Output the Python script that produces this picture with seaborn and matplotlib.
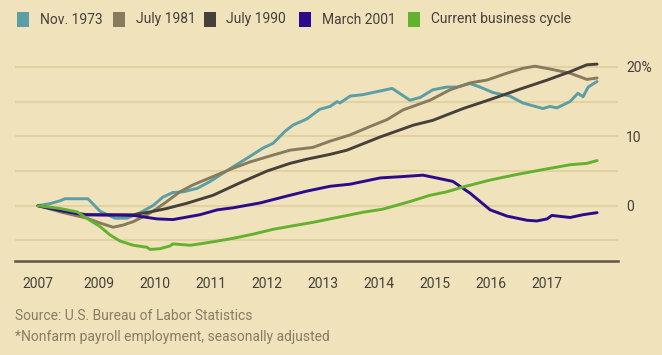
import matplotlib
matplotlib.use("Agg")
import matplotlib.pyplot as plt
import seaborn as sns
import pandas as pd
from matplotlib.patches import Rectangle

# ---------------- data (months since start of cycle, % change in payrolls) ----------------
series_names = ["Nov. 1973", "July 1981", "July 1990", "March 2001", "Current business cycle"]
series_colors = ["#5b9ea6", "#877b5e", "#46403a", "#2b0a8c", "#62b22f"]

nov1973_m = [0, 2.6, 4.7, 5.8, 10.7, 13.3, 16.5, 19.1, 21.9, 24.6, 26.8, 28.9, 31.1, 34.1, 36.9,
             41.8, 45.4, 48.2, 50.4, 52.9, 54.6, 57.6, 60.4, 62.6, 64.1, 64.7, 66.9, 69.6, 75.9,
             79.7, 81.9, 84.6, 87.6, 89.8, 92.6, 94.7, 97.5, 101.1, 103.9, 108.2, 109.7, 111.2,
             114.0, 115.7, 116.8, 117.9, 119.8]
nov1973_v = [0, 0.3, 0.7, 1.0, 1.0, -0.8, -1.8, -1.8, -1.0, 0.0, 1.25, 1.9, 2.0, 2.5, 3.5,
             5.6, 7.1, 8.3, 9.0, 10.7, 11.6, 12.5, 13.9, 14.3, 15.0, 14.8, 15.8, 16.0, 16.9,
             15.2, 15.6, 16.7, 17.1, 17.1, 17.6, 17.1, 16.3, 15.8, 14.8, 14.0, 14.3, 14.1,
             15.0, 16.2, 15.7, 17.1, 17.9]

jul1981_m = [0, 5.4, 10.5, 13.3, 16.1, 18.2, 20.4, 23.4, 25.5, 27.6, 30.4, 33.2, 37.5, 41.8,
             45.4, 50.4, 54.0, 58.9, 62.6, 66.9, 71.1, 74.8, 78.2, 84.0, 88.3, 92.6, 96.2,
             100.5, 103.9, 106.5, 109.7, 114.0, 117.6, 119.8]
jul1981_v = [0, -1.0, -1.8, -2.5, -3.1, -2.8, -2.3, -1.3, -0.4, 0.6, 2.0, 3.0, 4.2, 5.4,
             6.3, 7.3, 8.0, 8.4, 9.3, 10.2, 11.4, 12.4, 13.8, 15.2, 16.7, 17.7, 18.1,
             19.1, 19.8, 20.1, 19.7, 19.1, 18.2, 18.4]

jul1990_m = [0, 5.4, 10.5, 20.4, 24.0, 27.6, 31.9, 37.5, 43.3, 49.1, 54.0, 57.6, 62.6, 66.2,
             73.3, 80.4, 84.6, 91.1, 96.9, 103.3, 109.1, 114.0, 117.6, 119.8]
jul1990_v = [0, -0.8, -1.3, -1.3, -0.9, -0.4, 0.35, 1.5, 3.3, 5.0, 6.1, 6.7, 7.4, 8.0,
             9.9, 11.6, 12.3, 14.0, 15.3, 16.8, 18.1, 19.3, 20.3, 20.4]

mar2001_m = [0, 9.6, 20.4, 25.5, 28.9, 34.7, 38.4, 41.8, 47.6, 53.4, 57.6, 62.6, 66.9, 73.3,
             78.2, 82.5, 86.1, 88.9, 92.6, 96.9, 100.5, 104.8, 106.9, 109.1, 110.1, 114.0,
             116.8, 119.8]
mar2001_v = [0, -1.3, -1.4, -1.9, -2.0, -1.3, -0.6, -0.3, 0.4, 1.4, 2.1, 2.8, 3.1, 4.0,
             4.2, 4.4, 3.9, 3.5, 1.8, -0.6, -1.5, -2.1, -2.2, -1.9, -1.4, -1.7,
             -1.3, -1.0]

current_m = [0, 4.7, 8.4, 11.1, 13.3, 15.4, 17.6, 20.4, 23.4, 24.0, 26.1, 28.3, 28.9, 32.6,
             34.7, 38.4, 41.8, 46.1, 50.4, 54.6, 58.9, 62.6, 69.6, 73.9, 79.7, 84.0, 87.6,
             91.1, 96.9, 102.6, 108.2, 114.0, 117.6, 119.8]
current_v = [0, -0.4, -0.9, -2.1, -3.0, -4.2, -5.1, -5.7, -6.0, -6.3, -6.2, -5.8, -5.5, -5.7,
             -5.5, -5.1, -4.7, -4.1, -3.4, -2.9, -2.4, -1.9, -0.95, -0.5, 0.6, 1.5, 2.0,
             2.7, 3.7, 4.5, 5.2, 5.9, 6.1, 6.5]

xtick_months = [0, 13, 25, 37, 49, 61, 73, 85, 97, 109]
xtick_labels = ["2007", "2009", "2010", "2011", "2012", "2013", "2014", "2015", "2016", "2017"]
ytick_vals = [0, 10, 20]
ytick_labels = ["0", "10", "20%"]
grid_vals = [-5, 0, 5, 10, 15, 20]

source_text = "Source: U.S. Bureau of Labor Statistics"
note_text = "*Nonfarm payroll employment, seasonally adjusted"

# ---------------- build table ----------------
frames = []
for name, m, v in zip(series_names,
                      [nov1973_m, jul1981_m, jul1990_m, mar2001_m, current_m],
                      [nov1973_v, jul1981_v, jul1990_v, mar2001_v, current_v]):
    frames.append(pd.DataFrame({"month": m, "value": v, "cycle": name}))
df = pd.concat(frames, ignore_index=True)

# ---------------- style ----------------
BG = "#f0e2bb"
GRID = "#e2d1a3"
TXT = "#45403b"
SRC = "#8a7c63"

sns.set_theme(style="white")
plt.rcParams["font.family"] = ["Roboto", "DejaVu Sans"]

W, H = 662, 355
fig = plt.figure(figsize=(W / 100, H / 100), dpi=100, facecolor=BG)

# axes in pixel terms: left 15, right 618, top 50, bottom 260.7
ax_left, ax_right, ax_top, ax_bot = 15, 618, 50, 260.7
ax = fig.add_axes([ax_left / W, 1 - ax_bot / H, (ax_right - ax_left) / W, (ax_bot - ax_top) / H])
ax.set_facecolor(BG)

px_per_month = 56 / 12.0
x0_px = 38
px_per_pct = 6.94
y0_px = 205.7
ax.set_xlim((ax_left - x0_px) / px_per_month, (ax_right - x0_px) / px_per_month)
ax.set_ylim((y0_px - ax_bot) / px_per_pct, (y0_px - ax_top) / px_per_pct)

for g in grid_vals:
    ax.axhline(g, color=GRID, lw=1.5, zorder=0)

sns.lineplot(data=df, x="month", y="value", hue="cycle", hue_order=series_names,
             palette=series_colors, linewidth=2.1, legend=False, ax=ax, sort=False,
             estimator=None, zorder=3)

for s in ["top", "left", "right"]:
    ax.spines[s].set_visible(False)
ax.spines["bottom"].set_color("#5d5447")
ax.spines["bottom"].set_linewidth(1.8)

ax.set_xticks(xtick_months)
ax.set_xticklabels(xtick_labels)
ax.tick_params(axis="x", direction="out", length=5, width=1.2, color="#5d5447",
               labelsize=10, labelcolor=TXT, pad=7)
ax.yaxis.tick_right()
ax.set_yticks(ytick_vals)
ax.set_yticklabels(ytick_labels)
ax.tick_params(axis="y", length=0, labelsize=10, labelcolor=TXT, pad=6)
for lab in ax.get_yticklabels():
    lab.set_horizontalalignment("left")
ax.set_xlabel("")
ax.set_ylabel("")
ax.grid(False)

# ---------------- legend (top row) ----------------
sq_x = [17, 113, 204, 299, 408]
for name, col, sx in zip(series_names, series_colors, sq_x):
    fig.patches.append(Rectangle((sx / W, 1 - 26.5 / H), 12 / W, 14 / H,
                                 transform=fig.transFigure, facecolor=col,
                                 edgecolor="none", figure=fig))
    fig.text((sx + 22.5) / W, 1 - 19.5 / H, name, fontsize=10, color=TXT,
             ha="left", va="center")

# ---------------- footnotes ----------------
fig.text(15 / W, 1 - 316 / H, source_text, fontsize=10, color=SRC, ha="left", va="center")
fig.text(15 / W, 1 - 337 / H, note_text, fontsize=10, color=SRC, ha="left", va="center")

fig.savefig("out.png", dpi=100, facecolor=BG)
